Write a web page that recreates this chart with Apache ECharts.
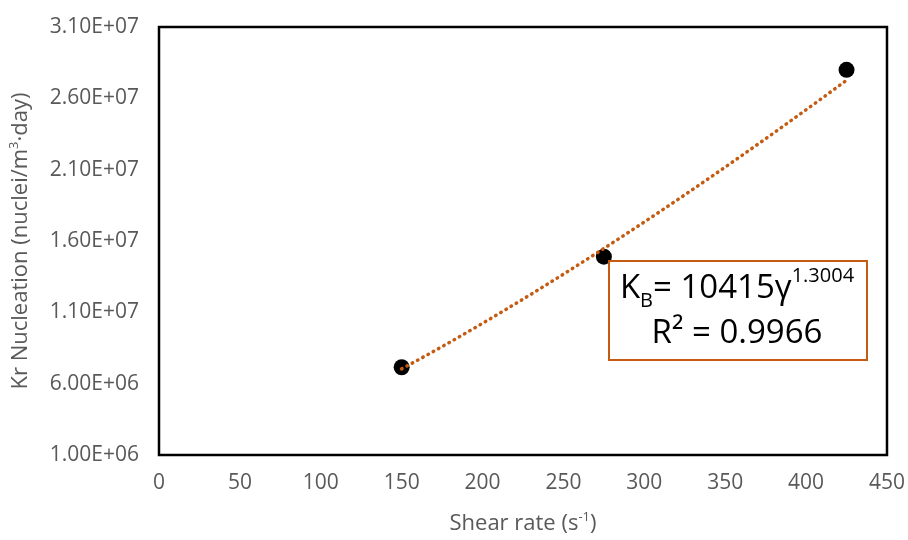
<!DOCTYPE html>
<html>
<head>
<meta charset="utf-8">
<script src="https://cdn.jsdelivr.net/npm/echarts@6/dist/echarts.min.js"></script>
<style>
  html, body { margin: 0; padding: 0; background: #fff; }
  #chart { width: 908px; height: 540px; }
</style>
</head>
<body>
<div id="chart"></div>
<script>
// Measured nucleation rates
const shearRate = [150, 275, 425];
const nucleation = [7.15e6, 1.49e7, 2.80e7];

// Power-law fit K_B = a * gamma^b, as reported in the box
const fitCoef = [10415, 1.3004];
const fitR2 = '0.9966';
const fitRange = [150, 425];

// Axis ticks: [min, max, step]
const xTicks = [0, 450, 50];
const yTicks = [1.0e6, 3.1e7, 5.0e6];

const FONT = 'Open Sans';
const ORANGE = '#C55A11';
const GREY = '#595959';

// Fitted curve sampled across the data range
const fitLine = [];
for (let i = 0; i <= 55; i++) {
  const x = fitRange[0] + (fitRange[1] - fitRange[0]) * i / 55;
  fitLine.push([x, fitCoef[0] * Math.pow(x, fitCoef[1])]);
}

function sci(v) {
  const [m, e] = v.toExponential(2).toUpperCase().split('E');
  return m + 'E' + e[0] + e.slice(1).padStart(2, '0');
}

const titleRich = {
  n: { fontFamily: FONT, fontSize: 22, color: GREY, lineHeight: 26 },
  sup: { fontFamily: FONT, fontSize: 13, color: GREY, verticalAlign: 'top', lineHeight: 13 }
};

const chart = echarts.init(document.getElementById('chart'), null, { renderer: 'canvas' });
chart.setOption({
  animation: false,
  backgroundColor: '#fff',
  grid: {
    left: 159, top: 27, right: 21, bottom: 83,
    show: true, borderColor: '#000', borderWidth: 2.5, backgroundColor: 'transparent'
  },
  xAxis: {
    type: 'value',
    min: xTicks[0], max: xTicks[1], interval: xTicks[2],
    axisLine: { show: false },
    axisTick: { show: false },
    splitLine: { show: false },
    axisLabel: { color: GREY, fontFamily: FONT, fontSize: 21, margin: 18 },
    name: '{n|Shear rate (s}{sup|-1}{n|)}',
    nameLocation: 'middle',
    nameGap: 56,
    nameTextStyle: { rich: titleRich }
  },
  yAxis: {
    type: 'value',
    min: yTicks[0], max: yTicks[1], interval: yTicks[2],
    axisLine: { show: false },
    axisTick: { show: false },
    splitLine: { show: false },
    axisLabel: { color: GREY, fontFamily: FONT, fontSize: 21, margin: 20, formatter: sci },
    name: '{n|Kr Nucleation (nuclei/m}{sup|3}{n|·day)}',
    nameLocation: 'middle',
    nameGap: 125,
    nameTextStyle: { rich: titleRich }
  },
  series: [
    {
      type: 'scatter',
      data: shearRate.map((x, i) => [x, nucleation[i]]),
      symbol: 'circle',
      symbolSize: 16,
      itemStyle: { color: '#000', opacity: 1 },
      z: 2
    },
    {
      type: 'line',
      data: fitLine,
      showSymbol: false,
      lineStyle: { color: ORANGE, width: 3.5, type: [0.5, 5.5], cap: 'round' },
      z: 3
    }
  ],
  graphic: [
    {
      type: 'rect',
      left: 608, top: 260,
      shape: { width: 258, height: 99 },
      style: { fill: '#fff', stroke: ORANGE, lineWidth: 2 },
      z: 10
    },
    {
      type: 'text',
      x: 737, y: 311,
      style: {
        text: '{m|K}{sub|B}{m|= 10415γ}{sup|1.3004}\n{m|R² = }{m|' + fitR2 + '}',
        align: 'center',
        verticalAlign: 'middle',
        rich: {
          m: { fontFamily: FONT, fontSize: 33, color: '#000', lineHeight: 45 },
          sub: { fontFamily: FONT, fontSize: 20, color: '#000', verticalAlign: 'bottom', lineHeight: 20 },
          sup: { fontFamily: FONT, fontSize: 20, color: '#000', verticalAlign: 'top', lineHeight: 20 }
        }
      },
      z: 11
    }
  ]
});
</script>
</body>
</html>
